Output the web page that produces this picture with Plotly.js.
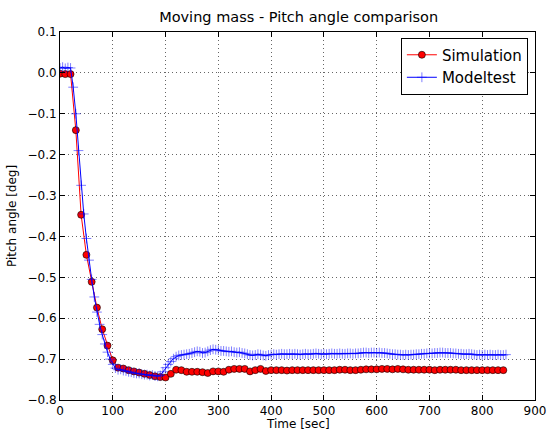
<!DOCTYPE html>
<html>
<head>
<meta charset="utf-8">
<script src="https://cdn.plot.ly/plotly-3.0.1.min.js"></script>
<style>html,body{margin:0;padding:0;background:#fff;}#chart{width:548px;height:430px;}</style>
</head>
<body>
<div id="chart"></div>
<script>
const simTime = [0,10,20,30,40,50,60,70,80,90,100,110,120,130,140,150,160,170,180,190,200,210,220,230,240,250,260,270,280,290,300,310,320,330,340,350,360,370,380,390,400,410,420,430,440,450,460,470,480,490,500,510,520,530,540,550,560,570,580,590,600,610,620,630,640,650,660,670,680,690,700,710,720,730,740,750,760,770,780,790,800,810,820,830,840];
const simPitch = [-0.002,-0.003,-0.003,-0.140,-0.347,-0.445,-0.511,-0.574,-0.627,-0.667,-0.703,-0.721,-0.723,-0.727,-0.730,-0.733,-0.736,-0.739,-0.742,-0.744,-0.745,-0.736,-0.726,-0.727,-0.731,-0.731,-0.731,-0.732,-0.734,-0.730,-0.730,-0.731,-0.726,-0.724,-0.724,-0.724,-0.730,-0.727,-0.724,-0.729,-0.727,-0.727,-0.727,-0.728,-0.727,-0.727,-0.727,-0.727,-0.727,-0.727,-0.727,-0.727,-0.727,-0.726,-0.726,-0.727,-0.727,-0.726,-0.725,-0.725,-0.725,-0.724,-0.724,-0.725,-0.724,-0.725,-0.726,-0.726,-0.726,-0.726,-0.726,-0.727,-0.726,-0.726,-0.726,-0.726,-0.727,-0.727,-0.727,-0.727,-0.727,-0.727,-0.727,-0.727,-0.727];

const testTime = [0,5,10,15,20,25,30,35,40,45,50,55,60,65,70,75,80,85,90,95,
100,105,110,115,120,125,130,135,140,145,150,155,160,165,170,175,180,185,190,195,
200,205,210,215,220,225,230,235,240,245,250,255,260,265,270,275,280,285,290,295,
300,305,310,315,320,325,330,335,340,345,350,355,360,365,370,375,380,385,390,395,
400,405,410,415,420,425,430,435,440,445,450,455,460,465,470,475,480,485,490,495,
500,505,510,515,520,525,530,535,540,545,550,555,560,565,570,575,580,585,590,595,
600,605,610,615,620,625,630,635,640,645,650,655,660,665,670,675,680,685,690,695,
700,705,710,715,720,725,730,735,740,745,750,755,760,765,770,775,780,785,790,795,
800,805,810,815,820,825,830,835,840,845];
const testPitch = [0.012,0.014,0.011,0.013,0.012,-0.035,-0.100,-0.190,-0.275,-0.345,-0.405,-0.458,-0.505,-0.548,-0.585,-0.615,-0.640,-0.663,-0.683,-0.700,
-0.713,-0.722,-0.726,-0.725,-0.728,-0.729,-0.731,-0.732,-0.734,-0.735,-0.735,-0.737,-0.738,-0.738,-0.740,-0.739,-0.741,-0.742,-0.740,-0.731,
-0.721,-0.713,-0.706,-0.699,-0.694,-0.691,-0.690,-0.689,-0.688,-0.687,-0.685,-0.683,-0.681,-0.682,-0.685,-0.684,-0.681,-0.678,-0.676,-0.677,
-0.678,-0.680,-0.680,-0.681,-0.682,-0.681,-0.683,-0.684,-0.683,-0.685,-0.686,-0.688,-0.690,-0.691,-0.690,-0.688,-0.689,-0.691,-0.692,-0.690,
-0.689,-0.688,-0.689,-0.688,-0.687,-0.688,-0.688,-0.687,-0.688,-0.687,-0.688,-0.689,-0.688,-0.687,-0.688,-0.688,-0.687,-0.686,-0.687,-0.688,
-0.687,-0.688,-0.687,-0.686,-0.687,-0.687,-0.686,-0.687,-0.687,-0.686,-0.686,-0.687,-0.686,-0.686,-0.685,-0.684,-0.684,-0.685,-0.684,-0.684,
-0.685,-0.684,-0.685,-0.685,-0.686,-0.687,-0.688,-0.688,-0.689,-0.689,-0.690,-0.689,-0.690,-0.689,-0.689,-0.688,-0.688,-0.687,-0.687,-0.686,
-0.686,-0.686,-0.685,-0.685,-0.684,-0.684,-0.685,-0.685,-0.685,-0.686,-0.686,-0.687,-0.687,-0.688,-0.688,-0.687,-0.688,-0.689,-0.690,-0.689,
-0.690,-0.689,-0.690,-0.689,-0.690,-0.690,-0.689,-0.690,-0.690,-0.689];

const xTicks = [0,100,200,300,400,500,600,700,800,900];
const yTicks = [-0.8,-0.7,-0.6,-0.5,-0.4,-0.3,-0.2,-0.1,0.0,0.1];

const font = 'DejaVu Sans, sans-serif';
const traces = [
  {x: simTime, y: simPitch, name: 'Simulation', type: 'scatter', mode: 'lines+markers',
   line: {color: '#ff0000', width: 1},
   marker: {symbol: 'circle', size: 7, color: '#ff0000', line: {color: '#000000', width: 0.6}}},
  {x: testTime, y: testPitch, name: 'Modeltest', type: 'scatter', mode: 'lines+markers',
   line: {color: '#0000ff', width: 1},
   marker: {symbol: 'cross-thin', size: 7, color: '#0000ff', line: {color: 'rgba(0,0,255,0.5)', width: 1}}}
];
const axisCommon = {
  showline: true, linecolor: '#000', linewidth: 1, mirror: 'ticks',
  ticks: 'inside', ticklen: 5, tickcolor: '#000', tickwidth: 1,
  showgrid: true, gridcolor: '#666', griddash: '1px,3px', gridwidth: 1,
  zeroline: false, tickfont: {family: font, size: 12, color: '#000'}
};
const layout = {
  width: 548, height: 430,
  margin: {l: 60, r: 13, t: 32, b: 30},
  paper_bgcolor: '#fff', plot_bgcolor: '#fff',
  title: {text: 'Moving mass - Pitch angle comparison', font: {family: font, size: 14.5, color: '#000'}, x: 0.545, xanchor: 'center', y: 0.972, yanchor: 'top'},
  xaxis: Object.assign({}, axisCommon, {range: [0, 900], tickvals: xTicks, ticktext: xTicks.map(String)}),
  yaxis: Object.assign({}, axisCommon, {range: [-0.8, 0.1], tickvals: yTicks, tickformat: '.1f'}),
  annotations: [
    {text: 'Time [sec]', xref: 'paper', yref: 'paper', x: 0.5, y: 0, xanchor: 'center', yanchor: 'top', yshift: -15,
     showarrow: false, font: {family: font, size: 12, color: '#000'}},
    {text: 'Pitch angle [deg]', xref: 'paper', yref: 'paper', x: 0, y: 0.5, xanchor: 'center', yanchor: 'middle', xshift: -48,
     textangle: -90, showarrow: false, font: {family: font, size: 12, color: '#000'}}
  ],
  showlegend: true,
  legend: {x: 0.985, y: 0.985, xanchor: 'right', yanchor: 'top', bgcolor: '#fff', bordercolor: '#000', borderwidth: 1,
    font: {family: font, size: 15, color: '#000'}, tracegroupgap: 0}
};
Plotly.newPlot('chart', traces, layout, {displayModeBar: false, staticPlot: true});
</script>
</body>
</html>
